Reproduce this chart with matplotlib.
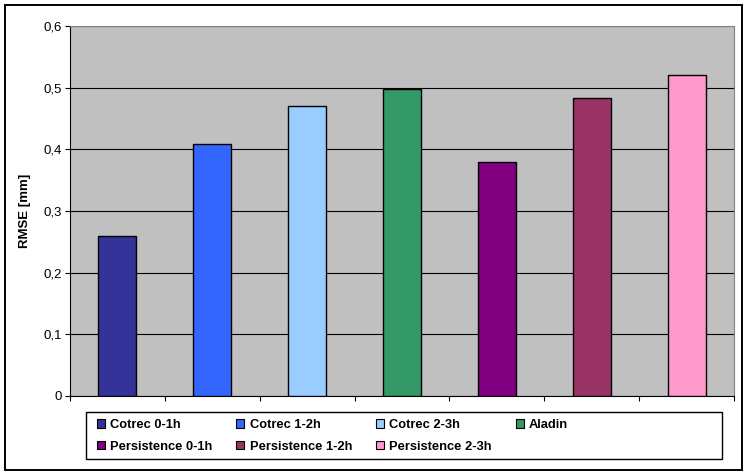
import matplotlib.pyplot as plt
from matplotlib.patches import Patch, Rectangle

plt.rcParams['font.family'] = ['Liberation Sans', 'DejaVu Sans']

# data
series = ['Cotrec 0-1h', 'Cotrec 1-2h', 'Cotrec 2-3h', 'Aladin',
          'Persistence 0-1h', 'Persistence 1-2h', 'Persistence 2-3h']
rmse = [0.259, 0.408, 0.470, 0.498, 0.380, 0.483, 0.521]
colors = ['#333399', '#3366FF', '#99CCFF', '#339966',
          '#800080', '#993366', '#FF99CC']
yticks = [0, 0.1, 0.2, 0.3, 0.4, 0.5, 0.6]
ytick_labels = ['0', '0,1', '0,2', '0,3', '0,4', '0,5', '0,6']

W, H = 748, 475
fig = plt.figure(figsize=(W / 100, H / 100), dpi=100)

# outer chart border
fig.patches.append(Rectangle((5 / W, 5 / H), 737 / W, 465 / H, transform=fig.transFigure,
                             fill=False, edgecolor='black', linewidth=1.4))

ax = fig.add_axes([70 / W, 79 / H, 664 / W, 370 / H])
ax.set_facecolor('#C0C0C0')

x = list(range(len(series)))
bars = ax.bar(x, rmse, width=0.4, color=colors, edgecolor='black', linewidth=1.0, zorder=3)

ax.set_xlim(-0.5, len(series) - 0.5)
ax.set_ylim(0, 0.6)
ax.set_yticks(yticks)
ax.set_yticklabels(ytick_labels, fontsize=9.5)
ax.set_xticks([i - 0.5 for i in range(len(series) + 1)])
ax.set_xticklabels([])
ax.tick_params(axis='both', direction='out', length=3.6, width=0.8, color='black', pad=2)
ax.yaxis.grid(True, color='black', linewidth=0.8, zorder=1)
ax.set_axisbelow(True)

for side in ['top', 'right']:
    ax.spines[side].set_color('#808080')
    ax.spines[side].set_linewidth(0.8)
for side in ['left', 'bottom']:
    ax.spines[side].set_color('black')
    ax.spines[side].set_linewidth(0.8)

fig.text(25 / W, 1 - 211 / H, 'RMSE [mm]', rotation=90, ha='center', va='center',
         fontsize=9.5, fontweight='bold')

# legend box
fig.patches.append(Rectangle((86 / W, 16 / H), 636 / W, 47 / H, transform=fig.transFigure,
                             fill=False, edgecolor='black', linewidth=1.0))
handles = [Patch(facecolor=c, edgecolor='black', linewidth=0.8) for c in colors]
# legend fills column by column, so reorder to read row by row
order = [0, 4, 1, 5, 2, 6, 3]
fig.legend([handles[i] for i in order], [series[i] for i in order],
           loc='upper left', bbox_to_anchor=(97 / W, 1 - 419 / H),
           ncol=4, frameon=False, borderpad=0, borderaxespad=0,
           handlelength=0.62, handleheight=0.62, handletextpad=0.4,
           columnspacing=1.86, labelspacing=0.75,
           prop={'size': 9.3, 'weight': 'bold'})

fig.savefig('out.png', dpi=100)
